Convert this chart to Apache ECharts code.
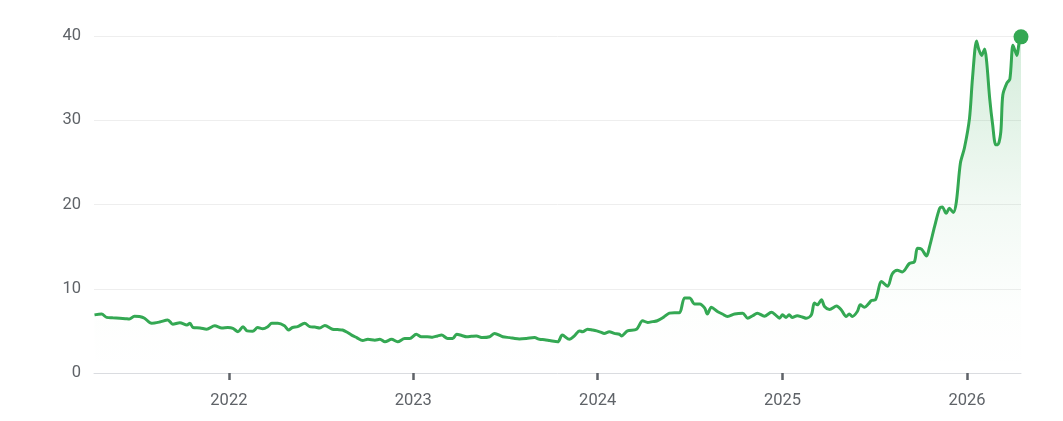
<!DOCTYPE html>
<html>
<head>
<meta charset="utf-8">
<script src="https://cdn.jsdelivr.net/npm/echarts@6/dist/echarts.min.js"></script>
<style>
html,body{margin:0;padding:0;background:#fff;}
#chart{width:1063px;height:421px;}
</style>
</head>
<body>
<div id="chart"></div>
<script>
var dates = [
"2021-04-10","2021-04-24","2021-05-04","2021-05-16","2021-05-30","2021-06-10","2021-06-18","2021-06-28","2021-07-08","2021-07-18",
"2021-08-01","2021-08-17","2021-09-02","2021-09-12","2021-09-26","2021-10-10","2021-10-16","2021-10-22","2021-11-05","2021-11-18",
"2021-12-04","2021-12-18","2021-12-30",
"2022-01-09","2022-01-19","2022-01-29","2022-02-06","2022-02-17","2022-02-27","2022-03-09","2022-03-19","2022-03-27","2022-04-08",
"2022-04-21","2022-04-29","2022-05-07","2022-05-17","2022-05-31","2022-06-10","2022-06-20","2022-06-30","2022-07-10","2022-07-25",
"2022-08-04","2022-08-14","2022-08-24","2022-09-01","2022-09-11","2022-09-23","2022-10-03","2022-10-17","2022-10-27","2022-11-06",
"2022-11-19","2022-12-01","2022-12-15","2022-12-25",
"2023-01-07","2023-01-17","2023-01-29","2023-02-08","2023-02-18","2023-02-26","2023-03-10","2023-03-20","2023-03-28","2023-04-07",
"2023-04-17","2023-04-26","2023-05-06","2023-05-18","2023-06-01","2023-06-11","2023-06-27","2023-07-11","2023-07-21","2023-07-30",
"2023-08-13","2023-08-29","2023-09-08","2023-09-18","2023-09-28","2023-10-14","2023-10-23","2023-11-06","2023-11-16","2023-11-26",
"2023-12-02","2023-12-12","2023-12-22","2023-12-30",
"2024-01-07","2024-01-14","2024-01-24","2024-02-03","2024-02-13","2024-02-17","2024-02-29","2024-03-18","2024-03-30","2024-04-09",
"2024-04-19","2024-04-28","2024-05-10","2024-05-22","2024-06-01","2024-06-11","2024-06-21","2024-07-01","2024-07-11","2024-07-21",
"2024-07-31","2024-08-05","2024-08-13","2024-08-25","2024-09-04","2024-09-14","2024-09-28","2024-10-14","2024-10-24","2024-11-03",
"2024-11-12","2024-11-26","2024-12-10","2024-12-18","2024-12-26",
"2025-01-01","2025-01-08","2025-01-14","2025-01-20","2025-01-30","2025-02-09","2025-02-17","2025-02-27","2025-03-05","2025-03-11",
"2025-03-19","2025-03-25","2025-04-04","2025-04-18","2025-04-27","2025-05-07","2025-05-13","2025-05-19","2025-05-29","2025-06-04",
"2025-06-12","2025-06-20","2025-06-26","2025-07-04","2025-07-16","2025-07-28","2025-08-06","2025-08-16","2025-08-26","2025-09-09",
"2025-09-19","2025-09-25","2025-10-03","2025-10-13","2025-10-19","2025-10-29","2025-11-08","2025-11-13","2025-11-21","2025-11-27",
"2025-12-05","2025-12-11","2025-12-19","2025-12-27",
"2026-01-06","2026-01-12","2026-01-20","2026-01-24","2026-01-30","2026-02-05","2026-02-09","2026-02-15","2026-02-21","2026-02-27",
"2026-03-03","2026-03-09","2026-03-13","2026-03-21","2026-03-27","2026-04-02","2026-04-06","2026-04-10","2026-04-14","2026-04-18"
];
var values = [
6.9,7.0,6.6,6.55,6.5,6.45,6.4,6.75,6.7,6.5,
5.9,6.05,6.3,5.8,5.97,5.7,5.9,5.4,5.35,5.2,
5.6,5.35,5.4,
5.3,4.9,5.5,5.0,4.95,5.4,5.25,5.5,5.9,5.9,
5.6,5.1,5.4,5.5,5.9,5.5,5.45,5.35,5.65,5.2,
5.15,5.1,4.8,4.5,4.2,3.85,4.0,3.9,4.0,3.7,
4.0,3.7,4.1,4.1,
4.6,4.3,4.3,4.25,4.4,4.5,4.1,4.1,4.6,4.45,
4.3,4.35,4.4,4.2,4.3,4.7,4.3,4.2,4.1,4.05,
4.1,4.2,4.0,3.95,3.85,3.7,4.5,4.0,4.4,5.0,
4.9,5.2,5.1,5.0,
4.85,4.7,4.9,4.7,4.6,4.4,5.0,5.2,6.2,6.0,
6.1,6.2,6.6,7.1,7.15,7.15,8.9,8.9,8.2,8.2,
7.7,7.0,7.8,7.3,7.0,6.7,7.0,7.1,6.5,6.8,
7.1,6.75,7.2,6.9,6.5,
6.9,6.6,6.9,6.6,6.8,6.65,6.5,6.9,8.3,8.1,
8.7,7.9,7.55,7.95,7.5,6.7,7.0,6.7,7.3,8.1,
7.8,8.2,8.6,8.7,10.85,10.3,11.75,12.2,12.0,13.0,
13.2,14.8,14.7,13.9,15.0,17.4,19.55,19.7,18.95,19.55,
19.05,20.3,24.9,26.7,
30.2,35.0,39.4,38.5,37.7,38.45,36.95,32.6,29.4,27.1,
27.1,28.6,33.0,34.4,34.9,38.9,38.3,37.7,39.1,39.9
];
var yearTicks = ["2022-01-01","2023-01-01","2024-01-01","2025-01-01","2026-01-01"];
var axisStart = "2021-04-09";
var axisEnd = "2026-04-18";

function ts(s){ return new Date(s + 'T00:00:00Z').getTime(); }
var green = '#34a853';
var seriesData = dates.map(function(d,i){ return [ts(d), values[i]]; });
var lastPoint = [ts(dates[dates.length-1]), values[values.length-1]];
var tickTs = yearTicks.map(ts);

var chart = echarts.init(document.getElementById('chart'), null, {renderer:'canvas'});
chart.setOption({
  animation: false,
  backgroundColor: '#fff',
  grid: {left: 94, right: 42, top: 36, bottom: 48, containLabel: false},
  xAxis: {
    type: 'value',
    min: ts(axisStart),
    max: ts(axisEnd),
    axisLine: {show: true, lineStyle: {color: '#dadce0', width: 1}},
    axisTick: {show: true, customValues: tickTs, length: 7, lineStyle: {color: '#5f6368', width: 2.5}},
    axisLabel: {
      customValues: tickTs,
      color: '#5f6368', fontFamily: 'Roboto', fontSize: 16.5, margin: 19,
      formatter: function(v){ return String(new Date(v).getUTCFullYear()); }
    },
    splitLine: {show: false}
  },
  yAxis: {
    type: 'value', min: 0, max: 40, interval: 10,
    axisLine: {show: false}, axisTick: {show: false},
    axisLabel: {color: '#5f6368', fontFamily: 'Roboto', fontSize: 16.5, margin: 13},
    splitLine: {show: true, lineStyle: {color: '#eeeeee', width: 1}}
  },
  series: [
    {
      type: 'line',
      data: seriesData,
      smooth: 0.3,
      showSymbol: false,
      lineStyle: {color: green, width: 3},
      areaStyle: {
        color: {
          type: 'linear', x: 0, y: 0, x2: 0, y2: 1,
          colorStops: [
            {offset: 0, color: 'rgba(52,168,83,0.30)'},
            {offset: 0.5, color: 'rgba(52,168,83,0.09)'},
            {offset: 0.8, color: 'rgba(52,168,83,0.015)'},
            {offset: 1, color: 'rgba(52,168,83,0.0)'}
          ]
        }
      },
      z: 2
    },
    {
      type: 'scatter',
      data: [lastPoint],
      symbolSize: 15,
      itemStyle: {color: green, opacity: 1},
      z: 3
    }
  ]
});
</script>
</body>
</html>
